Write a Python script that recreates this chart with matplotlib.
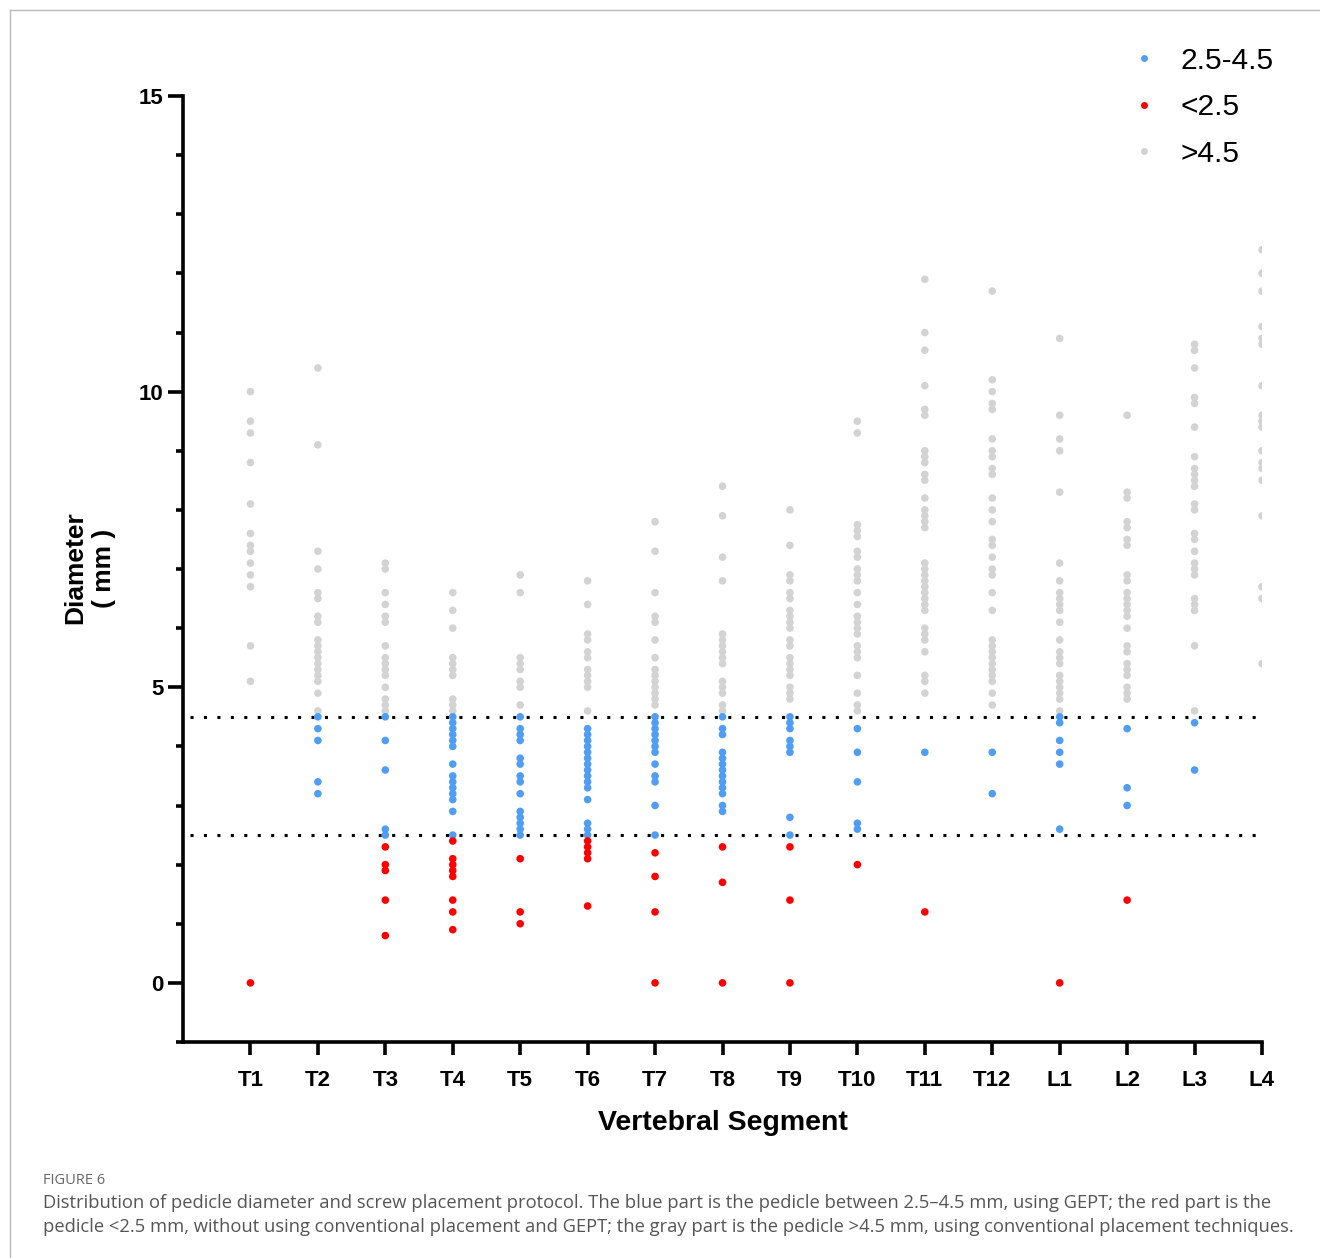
import numpy as np
import matplotlib.pyplot as plt
from matplotlib.lines import Line2D

segments = ['T1', 'T2', 'T3', 'T4', 'T5', 'T6', 'T7', 'T8', 'T9', 'T10',
            'T11', 'T12', 'L1', 'L2', 'L3', 'L4']

# pedicle diameter (mm) per segment, split by group
gray_vals = {
    'T1': [10.0, 9.5, 9.3, 8.8, 8.1, 7.6, 7.4, 7.3, 7.1, 6.9, 6.7, 5.7, 5.1],
    'T2': [10.4, 9.1, 7.3, 7.0, 6.6, 6.5, 6.2, 6.1, 5.8, 5.7, 5.6, 5.5, 5.4,
           5.3, 5.2, 5.1, 4.9, 4.6],
    'T3': [7.1, 7.0, 6.6, 6.4, 6.2, 6.1, 5.7, 5.5, 5.4, 5.3, 5.2, 5.0, 4.8,
           4.7, 4.6],
    'T4': [6.6, 6.3, 6.0, 5.5, 5.4, 5.3, 5.2, 4.8, 4.7, 4.6],
    'T5': [6.9, 6.6, 5.5, 5.4, 5.3, 5.1, 5.0, 4.7],
    'T6': [6.8, 6.4, 5.9, 5.8, 5.6, 5.5, 5.3, 5.2, 5.1, 5.0, 4.6],
    'T7': [7.8, 7.3, 6.6, 6.2, 6.1, 5.8, 5.5, 5.3, 5.2, 5.1, 5.0, 4.9, 4.8,
           4.7],
    'T8': [8.4, 7.9, 7.2, 6.8, 5.9, 5.8, 5.7, 5.6, 5.5, 5.4, 5.1, 5.0, 4.9,
           4.7, 4.6],
    'T9': [8.0, 7.4, 6.9, 6.8, 6.6, 6.5, 6.3, 6.2, 6.1, 6.0, 5.8, 5.7, 5.5,
           5.4, 5.3, 5.2, 5.0, 4.9, 4.8],
    'T10': [9.5, 9.3, 7.75, 7.65, 7.55, 7.3, 7.2, 7.0, 6.9, 6.8, 6.6, 6.4,
            6.2, 6.1, 6.0, 5.9, 5.7, 5.6, 5.5, 5.2, 4.9, 4.7, 4.6],
    'T11': [11.9, 11.0, 10.7, 10.1, 9.7, 9.6, 9.0, 8.9, 8.8, 8.6, 8.5, 8.2,
            8.0, 7.9, 7.8, 7.7, 7.1, 7.0, 6.9, 6.8, 6.7, 6.6, 6.5, 6.4, 6.3,
            6.0, 5.9, 5.8, 5.6, 5.2, 5.1, 4.9],
    'T12': [11.7, 10.2, 10.0, 9.8, 9.7, 9.2, 9.0, 8.9, 8.7, 8.6, 8.2, 8.0,
            7.8, 7.5, 7.4, 7.2, 7.0, 6.9, 6.6, 6.3, 5.8, 5.7, 5.6, 5.5, 5.4,
            5.3, 5.2, 5.1, 4.9, 4.7],
    'L1': [10.9, 9.6, 9.2, 9.0, 8.3, 7.1, 6.8, 6.6, 6.5, 6.4, 6.3, 6.1, 5.8,
           5.6, 5.5, 5.4, 5.2, 5.1, 5.0, 4.9, 4.8, 4.6],
    'L2': [9.6, 8.3, 8.2, 7.8, 7.7, 7.5, 7.4, 6.9, 6.8, 6.6, 6.5, 6.4, 6.3,
           6.2, 6.0, 5.7, 5.6, 5.4, 5.3, 5.2, 5.0, 4.9, 4.8],
    'L3': [10.8, 10.7, 10.4, 9.9, 9.8, 9.4, 8.9, 8.7, 8.6, 8.5, 8.4, 8.1,
           8.0, 7.6, 7.5, 7.3, 7.1, 7.0, 6.9, 6.5, 6.4, 6.3, 5.7, 4.6],
    'L4': [12.4, 12.0, 11.7, 11.1, 10.9, 10.8, 10.1, 9.6, 9.5, 9.4, 9.0, 8.8,
           8.7, 8.5, 7.9, 6.7, 6.5, 5.4],
}
blue_vals = {
    'T2': [4.5, 4.3, 4.1, 3.4, 3.2],
    'T3': [4.5, 4.1, 3.6, 2.6, 2.5],
    'T4': [4.5, 4.4, 4.3, 4.2, 4.1, 4.0, 3.7, 3.5, 3.4, 3.3, 3.2, 3.1, 2.9, 2.5],
    'T5': [4.5, 4.3, 4.2, 4.1, 3.8, 3.7, 3.5, 3.4, 3.2, 2.9, 2.8, 2.7, 2.6, 2.5],
    'T6': [4.3, 4.2, 4.1, 4.0, 3.9, 3.8, 3.7, 3.6, 3.5, 3.4, 3.3, 3.1, 2.7,
           2.6, 2.5],
    'T7': [4.5, 4.4, 4.3, 4.2, 4.1, 4.0, 3.9, 3.7, 3.5, 3.4, 3.0, 2.5],
    'T8': [4.5, 4.3, 4.2, 3.9, 3.8, 3.7, 3.6, 3.5, 3.4, 3.3, 3.2, 3.0, 2.9],
    'T9': [4.5, 4.4, 4.3, 4.1, 4.0, 3.9, 2.8, 2.5],
    'T10': [4.3, 3.9, 3.4, 2.7, 2.6],
    'T11': [3.9],
    'T12': [3.9, 3.2],
    'L1': [4.5, 4.4, 4.1, 3.9, 3.7, 2.6],
    'L2': [4.3, 3.3, 3.0],
    'L3': [4.4, 3.6],
}
red_vals = {
    'T1': [0.0],
    'T3': [2.3, 2.0, 1.9, 1.4, 0.8],
    'T4': [2.4, 2.1, 2.0, 1.9, 1.8, 1.4, 1.2, 0.9],
    'T5': [2.1, 1.2, 1.0],
    'T6': [2.4, 2.3, 2.2, 2.1, 1.3],
    'T7': [2.2, 1.8, 1.2, 0.0],
    'T8': [2.3, 1.7, 0.0],
    'T9': [2.3, 1.4, 0.0],
    'T10': [2.0],
    'T11': [1.2],
    'L1': [0.0],
    'L2': [1.4],
}

c_blue = '#4f9df5'
c_red = '#ff0000'
c_gray = '#d3d3d3'


def xy(d):
    xs, ys = [], []
    for k, v in d.items():
        xs += [segments.index(k) + 1] * len(v)
        ys += v
    return xs, ys


fig = plt.figure(figsize=(13.2, 12.58), dpi=100)
ax = fig.add_axes([183 / 1320, 1 - 1042 / 1258, (1262 - 183) / 1320, (1042 - 96) / 1258])

for d, c in ((gray_vals, c_gray), (blue_vals, c_blue), (red_vals, c_red)):
    x, y = xy(d)
    ax.scatter(x, y, s=30, color=c, edgecolors='none', zorder=3)

ax.plot([0.1, 16], [4.5, 4.5], color='k', lw=2.2, ls=(0, (1, 3.4)), zorder=2)
ax.plot([0.1, 16], [2.5, 2.5], color='k', lw=2.2, ls=(0, (1, 3.4)), zorder=2)

ax.set_xlim(0, 16)
ax.set_ylim(-1, 15)
for s in ('top', 'right'):
    ax.spines[s].set_visible(False)
for s in ('left', 'bottom'):
    ax.spines[s].set_linewidth(2.6)

ax.set_yticks([0, 5, 10, 15])
ax.set_yticks(np.arange(-1, 16, 1), minor=True)
ax.set_xticks(np.arange(1, 17))
ax.set_xticklabels(segments)
ax.tick_params(axis='y', which='major', length=11, width=2.6, pad=3)
ax.tick_params(axis='y', which='minor', length=5, width=2.6)
ax.tick_params(axis='x', which='major', length=9, width=2.6, pad=11)
for lab in ax.get_xticklabels() + ax.get_yticklabels():
    lab.set_fontfamily('Liberation Sans')
    lab.set_fontweight('bold')
    lab.set_fontsize(16)

ax.set_xlabel('Vertebral Segment', fontfamily='Liberation Sans', fontweight='bold',
              fontsize=20.5, labelpad=14)
fig.text(90 / 1320, 1 - 568 / 1258, 'Diameter\n( mm )', rotation=90, ha='center',
         va='center', multialignment='center', fontfamily='Liberation Sans',
         fontweight='bold', fontsize=19, linespacing=1.25)

handles = [Line2D([], [], ls='none', marker='o', ms=5, mfc=c, mec='none')
           for c in (c_blue, c_red, c_gray)]
fig.legend(handles, ['2.5-4.5', '<2.5', '>4.5'], loc='upper right',
           bbox_to_anchor=(1301 / 1320, 1 - 20 / 1258), frameon=False,
           prop={'family': 'Liberation Sans', 'size': 21.5}, handletextpad=0.75,
           labelspacing=0.62, handlelength=1.0)

# caption
fig.text(43 / 1320, 1 - 1180 / 1258, 'FIGURE 6', fontfamily='Open Sans',
         fontsize=10.5, color='#666666', va='center')
fig.text(43 / 1320, 1 - 1203 / 1258,
         'Distribution of pedicle diameter and screw placement protocol. The blue part is the '
         'pedicle between 2.5\u20134.5 mm, using GEPT; the red part is the',
         fontfamily='Open Sans', fontsize=13.2, color='#555555', va='center')
fig.text(43 / 1320, 1 - 1227 / 1258,
         'pedicle <2.5 mm, without using conventional placement and GEPT; the gray part is the '
         'pedicle >4.5 mm, using conventional placement techniques.',
         fontfamily='Open Sans', fontsize=13.2, color='#555555', va='center')

# thin frame lines at the top and left of the panel
fig.add_artist(Line2D([10 / 1320, 10 / 1320], [0, 1 - 10 / 1258], transform=fig.transFigure,
                      color='#bbbbbb', lw=1))
fig.add_artist(Line2D([10 / 1320, 1], [1 - 10 / 1258, 1 - 10 / 1258], transform=fig.transFigure,
                      color='#bbbbbb', lw=1))

fig.savefig('out.png', dpi=100)
